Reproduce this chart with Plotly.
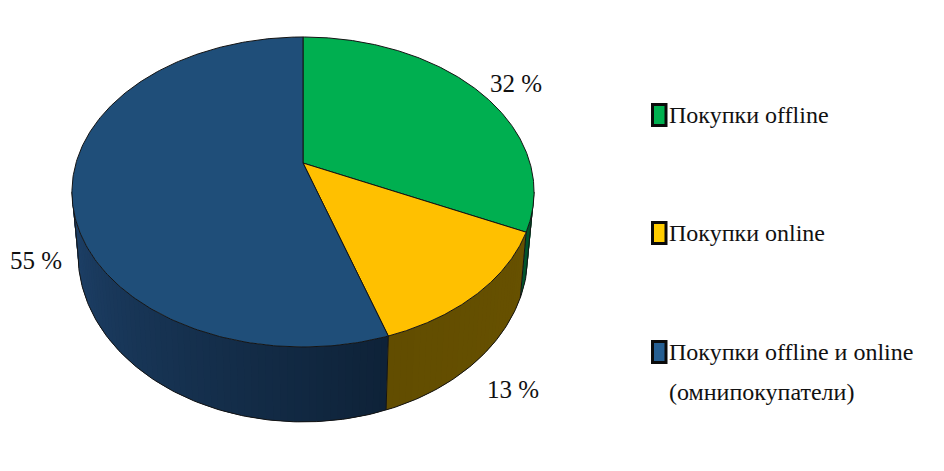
import numpy as np
import plotly.graph_objects as go

categories = ["Покупки offline", "Покупки online", "Покупки offline и online"]
category_note = "(омнипокупатели)"
values = [32, 13, 55]
value_labels = ["32 %", "13 %", "55 %"]

top_colors = ["#00AF50", "#FFC000", "#1F4E79"]
swatch_colors = ["#00B050", "#FFCC00", "#255E91"]
side_start = [(0, 92, 48), (103, 81, 0), (14, 34, 56)]
side_end = [(0, 84, 44), (98, 77, 0), (30, 66, 106)]

CX = 303
B = -0.187
TOP = dict(s=227, p=119.1, q=163)
BOT = dict(s=221, p=120, q=223)
SIL = np.degrees(np.arccos(B))  # silhouette angle of the perspective disc


def project(theta_deg, g):
    t = np.radians(theta_deg)
    u, v = np.sin(t), -np.cos(t)
    d = 1 + B * v
    return CX + g["s"] * u / d, (g["p"] * v + g["q"]) / d


fig = go.Figure()
edge = dict(color="#141414", width=1)
bounds = np.concatenate([[0], np.cumsum(values)]) * 3.6


def poly(x, y, fill, line):
    fig.add_trace(go.Scatter(x=x, y=y, mode="lines", fill="toself", fillcolor=fill,
                             line=line, hoverinfo="skip", showlegend=False))


# side wall: overlapping shaded strips inside each slice's visible range
for i in range(3):
    a0 = max(bounds[i], SIL)
    a1 = min(bounds[i + 1], 360 - SIL)
    n = max(2, int((a1 - a0) / 1.5))
    edges = np.linspace(a0, a1, n + 1)
    for k in range(n):
        f = k / max(n - 1, 1)
        rgb = tuple(int(round(side_start[i][c] * (1 - f) + side_end[i][c] * f)) for c in range(3))
        col = "rgb(%d,%d,%d)" % rgb
        th = np.array([edges[k], edges[min(k + 2, n)]])
        xt, yt = project(th, TOP)
        xb, yb = project(th[::-1], BOT)
        poly(np.r_[xt, xb, xt[0]], np.r_[yt, yb, yt[0]], col, dict(color=col, width=0))

# side wall outline
th = np.linspace(SIL, 360 - SIL, 200)
xb, yb = project(th, BOT)
xt0, yt0 = project(np.array([SIL, 360 - SIL]), TOP)
fig.add_trace(go.Scatter(x=np.r_[xt0[0], xb, xt0[1]], y=np.r_[yt0[0], yb, yt0[1]], mode="lines",
                         line=edge, hoverinfo="skip", showlegend=False))
for a in bounds[1:3]:
    xa, ya = project(np.array([a]), TOP)
    xc, yc = project(np.array([a]), BOT)
    fig.add_trace(go.Scatter(x=[xa[0], xc[0]], y=[ya[0], yc[0]], mode="lines",
                             line=edge, hoverinfo="skip", showlegend=False))

# top face
for i in range(3):
    th = np.linspace(bounds[i], bounds[i + 1], 240)
    x, y = project(th, TOP)
    poly(np.r_[CX, x, CX], np.r_[TOP["q"], y, TOP["q"]], top_colors[i], edge)

label_pos = [(516, 83), (513, 389), (36, 260)]
annotations = [dict(x=p[0], y=p[1], text=t, showarrow=False, xref="x", yref="y",
                    font=dict(family="Liberation Serif", size=25, color="#111"))
               for p, t in zip(label_pos, value_labels)]


def legend_text(y, text):
    annotations.append(dict(x=667, y=y, text=text, showarrow=False, xref="x", yref="y",
                            xanchor="left", yanchor="middle", align="left",
                            font=dict(family="Liberation Serif", size=24, color="#111")))


legend_y = [115, 233, 352]
shapes = []
for yy, c, name in zip(legend_y, swatch_colors, categories):
    shapes.append(dict(type="rect", xref="x", yref="y", x0=652.5, x1=666, y0=yy - 10.5, y1=yy + 10.5,
                       fillcolor=c, line=dict(color="#0a0a0a", width=3)))
    legend_text(yy - 0.5, name)
legend_text(392, category_note)

fig.update_layout(
    width=944, height=471, margin=dict(l=0, r=0, t=0, b=0),
    paper_bgcolor="white", plot_bgcolor="white", showlegend=False,
    xaxis=dict(range=[0, 944], visible=False, fixedrange=True),
    yaxis=dict(range=[471, 0], visible=False, fixedrange=True),
    annotations=annotations, shapes=shapes,
)
fig.write_html("out.html", config={"displayModeBar": False},
               post_script="document.body.style.margin='0';document.body.style.overflow='hidden';")
